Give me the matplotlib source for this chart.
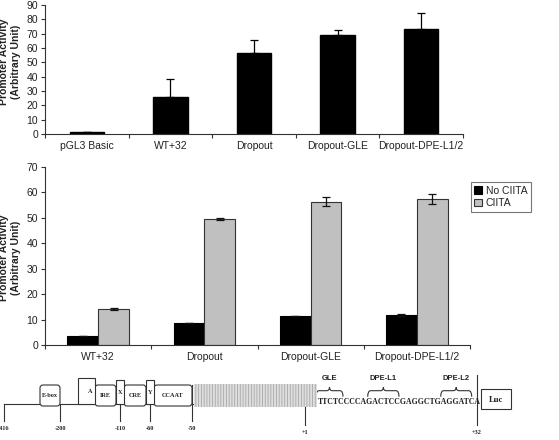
import numpy as np
import matplotlib
matplotlib.use('Agg')
import matplotlib.pyplot as plt
from matplotlib.patches import Rectangle, FancyBboxPatch, PathPatch
from matplotlib.path import Path

plt.rcParams['font.family'] = ['Liberation Sans', 'DejaVu Sans']
plt.rcParams['hatch.linewidth'] = 0.6

# top chart data
top_labels = ['pGL3 Basic', 'WT+32', 'Dropout', 'Dropout-GLE', 'Dropout-DPE-L1/2']
top_values = [1.5, 25.5, 56.5, 69.0, 73.5]
top_err = [0.0, 13.0, 9.0, 3.8, 10.7]
top_ticks = [0, 10, 20, 30, 40, 50, 60, 70, 80, 90]

# bottom chart data
bottom_labels = ['WT+32', 'Dropout', 'Dropout-GLE', 'Dropout-DPE-L1/2']
no_ciita = [3.5, 8.8, 11.2, 11.7]
no_ciita_err = [0.0, 0.0, 0.0, 0.3]
ciita = [14.0, 49.5, 56.3, 57.2]
ciita_err = [0.4, 0.5, 1.7, 2.0]
bottom_ticks = [0, 10, 20, 30, 40, 50, 60, 70]

# promoter diagram text
sequence = 'TTCTCCCCAGACTCCGAGGCTGAGGATCA'

W, H = 559, 440
fig = plt.figure(figsize=(W / 100, H / 100), dpi=100)
txt = '#222222'
serif = ['Liberation Serif', 'DejaVu Serif']


def style_axis(ax, n, ticks):
    for s in ['top', 'right']:
        ax.spines[s].set_visible(False)
    for s in ['left', 'bottom']:
        ax.spines[s].set_linewidth(0.8)
        ax.spines[s].set_color('#333333')
    ax.set_xlim(-0.5, n - 0.5)
    ax.set_yticks(ticks)
    ax.tick_params(axis='y', length=3, width=0.8, labelsize=7.5, pad=2, colors='#333333', labelcolor=txt)
    ax.set_xticks(np.arange(n))
    ax.tick_params(axis='x', length=0, labelsize=7.5, pad=5, labelcolor=txt)
    ax.set_xticks(np.arange(n + 1) - 0.5, minor=True)
    ax.tick_params(axis='x', which='minor', length=3, width=0.8, colors='#333333')


# ---- top chart
ax1 = fig.add_axes([45 / W, 1 - 134 / H, (463 - 45) / W, (134 - 5) / H])
x1 = np.arange(len(top_labels))
ax1.bar(x1, top_values, width=0.41, color='black', edgecolor='black', zorder=2)
ax1.errorbar(x1, top_values, yerr=[np.zeros(len(top_err)), top_err], fmt='none',
             ecolor='black', elinewidth=0.9, capsize=3, capthick=0.9, zorder=3)
ax1.set_ylim(0, 90)
style_axis(ax1, len(top_labels), top_ticks)
ax1.set_xticklabels(top_labels)

# ---- bottom chart
ax2 = fig.add_axes([45 / W, 1 - 345 / H, (470 - 45) / W, (345 - 166.7) / H])
x2 = np.arange(len(bottom_labels))
bw = 0.29
ax2.bar(x2 - bw / 2, no_ciita, width=bw, color='black', edgecolor='black',
        linewidth=0.8, label='No CIITA', zorder=2)
ax2.bar(x2 + bw / 2, ciita, width=bw, color='#c0c0c0', edgecolor='#333333',
        linewidth=0.8, label='CIITA', zorder=2)
ax2.errorbar(x2 - bw / 2, no_ciita, yerr=no_ciita_err, fmt='none', ecolor='#111111',
             elinewidth=0.9, capsize=3, capthick=0.9, zorder=3)
ax2.errorbar(x2 + bw / 2, ciita, yerr=ciita_err, fmt='none', ecolor='#111111',
             elinewidth=0.9, capsize=3, capthick=0.9, zorder=3)
ax2.set_ylim(0, 70)
style_axis(ax2, len(bottom_labels), bottom_ticks)
ax2.set_xticklabels(bottom_labels)
leg = ax2.legend(loc='upper left', bbox_to_anchor=(470.7 / W, 1 - 182 / H),
                 bbox_transform=fig.transFigure, fontsize=7.5, frameon=True,
                 fancybox=False, handlelength=0.7, handleheight=0.7,
                 borderpad=0.35, labelspacing=0.25, handletextpad=0.4, borderaxespad=0)
leg.get_frame().set_edgecolor('#555555')
leg.get_frame().set_linewidth(0.8)
for t in leg.get_texts():
    t.set_color(txt)

# y labels
for yc in [62, 258]:
    fig.text(10 / W, 1 - yc / H, 'Promoter Activity\n(Arbitrary Unit)', rotation=90,
             ha='center', va='center', fontsize=7.5, fontweight='bold',
             color=txt, linespacing=1.15, multialignment='center')

# ---- promoter diagram (pixel coordinates overlay)
ax3 = fig.add_axes([0, 0, 1, 1])
ax3.set_xlim(0, W)
ax3.set_ylim(H, 0)
ax3.axis('off')
ax3.patch.set_alpha(0)

lc = '#333333'
base = 404
ax3.plot([4, 194], [base, base], color=lc, lw=0.8)

# element boxes: (x0, x1, top, label, rounded)
elements = [
    (40, 60, 385, 'E-box', True),
    (78, 95, 377.7, 'A', False),
    (95, 116, 385, 'IRE', True),
    (116, 124, 380, 'X', False),
    (124, 146, 385, 'CRE', True),
    (146, 154, 380, 'Y', False),
    (154, 192, 385, 'CCAAT', True),
]
for x0, x1, top, lab, rnd in elements:
    if rnd:
        p = FancyBboxPatch((x0 + 2, top + 2), x1 - x0 - 4, base - top - 2,
                           boxstyle='round,pad=2,rounding_size=3',
                           fc='white', ec=lc, lw=0.8, zorder=2)
    else:
        p = Rectangle((x0, top), x1 - x0, base - top, fc='white', ec=lc, lw=0.8, zorder=3)
    ax3.add_patch(p)
    tx = (x0 + x1) / 2 if lab != 'A' else x1 - 5
    ax3.text(tx, (top + base) / 2 + 1, lab, ha='center', va='center', fontsize=4.5,
             family=serif, fontweight='bold', color=txt, zorder=4)

# shaded region
ax3.add_patch(Rectangle((194, 384), 316.7 - 194, 406.7 - 384, fc='#dedede',
                        ec='#a8a8a8', lw=0, hatch='||||||', zorder=2))

# position ticks
positions = [(4, 404, 421, '-416'), (60.3, 404, 421, '-200'), (120, 404, 421, '-110'),
             (150, 404, 421, '-60'), (192, 385, 421, '-50'), (305, 406.7, 425, '+1'),
             (477, 375, 425, '+32')]
for x, y0, y1, lab in positions:
    ax3.plot([x, x], [y0, y1], color=lc, lw=0.8, zorder=3)
    ax3.text(x, y1 + 7, lab, ha='center', va='center', fontsize=4.5,
             family=serif, fontweight='bold', color=txt)

# sequence
ax3.text(317.7, 401.5, sequence, ha='left', va='center', fontsize=5.55,
         family=serif, fontweight='bold', color=txt)

# Luc box
ax3.add_patch(Rectangle((480.7, 389), 30, 20, fc='white', ec=lc, lw=0.8))
ax3.text(495.7, 399.5, 'Luc', ha='center', va='center', fontsize=6.2,
         family=serif, fontweight='bold', color=txt)


def brace(ax, x0, x1, ybot=396.7, ymid=390.7, ytop=387.2):
    xc = (x0 + x1) / 2
    r = 3
    verts = [(x0, ybot), (x0, ymid), (x0 + r, ymid), (xc - r, ymid),
             (xc, ymid), (xc, ytop), (xc, ymid), (xc + r, ymid),
             (x1 - r, ymid), (x1, ymid), (x1, ybot)]
    codes = [Path.MOVETO, Path.CURVE3, Path.CURVE3, Path.LINETO,
             Path.CURVE3, Path.CURVE3, Path.CURVE3, Path.CURVE3,
             Path.LINETO, Path.CURVE3, Path.CURVE3]
    ax.add_patch(PathPatch(Path(verts, codes), fc='none', ec=lc, lw=0.8))


braces = [(316, 343, 'GLE'), (367.7, 399, 'DPE-L1'), (440.7, 471.7, 'DPE-L2')]
for x0, x1, lab in braces:
    brace(ax3, x0, x1)
    ax3.text((x0 + x1) / 2, 378.5, lab, ha='center', va='center', fontsize=5.5,
             fontweight='bold', color=txt)

fig.savefig('out.png', dpi=100)
